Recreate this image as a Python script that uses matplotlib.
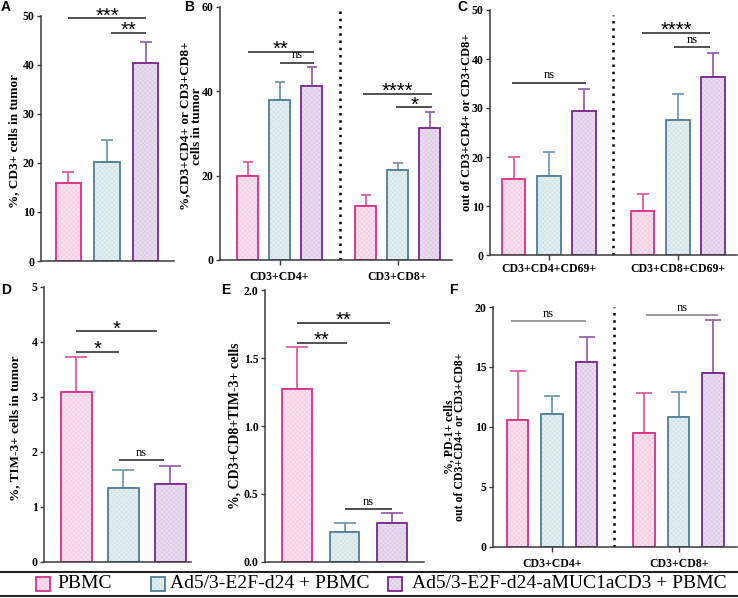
import matplotlib
matplotlib.use('Agg')
import matplotlib.pyplot as plt
from matplotlib.patches import Rectangle
from matplotlib.lines import Line2D
from matplotlib.colors import to_rgba

W, H = 738, 598
plt.rcParams['font.family'] = ['Liberation Serif', 'DejaVu Serif']
plt.rcParams['hatch.linewidth'] = 0.35

# ---------------- data ----------------
groups = ['PBMC', 'Ad5/3-E2F-d24 + PBMC', 'Ad5/3-E2F-d24-aMUC1aCD3 + PBMC']

A_mean = [16.0, 20.1, 40.4]
A_err = [2.2, 4.6, 4.2]

B_cats = ['CD3+CD4+', 'CD3+CD8+']
B_cd4_mean = [20.0, 37.9, 41.2]
B_cd4_err = [3.2, 4.4, 4.6]
B_cd8_mean = [12.8, 21.3, 31.2]
B_cd8_err = [2.7, 1.6, 3.8]

C_cats = ['CD3+CD4+CD69+', 'CD3+CD8+CD69+']
C_cd4_mean = [15.5, 16.2, 29.4]
C_cd4_err = [4.4, 4.9, 4.4]
C_cd8_mean = [9.0, 27.6, 36.4]
C_cd8_err = [3.4, 5.3, 4.9]

D_mean = [3.09, 1.34, 1.42]
D_err = [0.63, 0.33, 0.33]

E_mean = [1.27, 0.22, 0.285]
E_err = [0.31, 0.07, 0.075]

F_cats = ['CD3+CD4+', 'CD3+CD8+']
F_cd4_mean = [10.6, 11.1, 15.45]
F_cd4_err = [4.1, 1.5, 2.05]
F_cd8_mean = [9.5, 10.8, 14.5]
F_cd8_err = [3.3, 2.1, 4.4]

# significance brackets: (x_from, x_to, y, label)
A_sig = [(0.0, 2.0, 49.5, '***'), (1.1, 2.0, 46.5, '**')]
B_sig = [(0.0, 2.08, 49.3, '**'), (1.0, 2.08, 46.8, 'ns'),
         (3.6, 5.77, 39.4, '****'), (4.64, 5.77, 36.2, '*')]
C_sig = [(-0.04, 2.06, 35.2, 'ns'), (3.65, 5.57, 45.4, '****'), (4.55, 5.57, 42.4, 'ns')]
D_sig = [(0.0, 1.72, 4.19, '*'), (0.0, 0.9, 3.82, '*'), (0.9, 1.86, 1.85, 'ns')]
E_sig = [(0.0, 1.96, 1.76, '**'), (0.0, 1.05, 1.61, '**'), (1.0, 2.0, 0.39, 'ns')]
F_sig = [(-0.2, 1.99, 18.8, 'ns'), (3.72, 5.8, 19.3, 'ns')]

# ---------------- style ----------------
edge_colors = ['#d62f86', '#4e7e96', '#77288a']
fill_colors = ['#f8e0ee', '#e3eef1', '#e9dcf0']
hatch_colors = ['#efc6de', '#cbdfe6', '#d9c6e4']
err_colors = ['#d8539b', '#6893a7', '#9058a3']
AX_COL = '#3a3a3a'
HATCH = 'xxxxxxx'

fig = plt.figure(figsize=(W / 100, H / 100), dpi=100)


def add_ax(l, r, t, b):
    return fig.add_axes([l / W, 1 - b / H, (r - l) / W, (b - t) / H])


def set_hatch(patch, c):
    try:
        patch.set_hatchcolor(c)
    except AttributeError:
        patch._hatch_color = to_rgba(c)


def style(ax, ylim, yticks, fmt='{:g}', xpad=4):
    ax.set_ylim(*ylim)
    ax.set_yticks(yticks)
    ax.set_yticklabels([fmt.format(v) for v in yticks])
    for s in ['top', 'right']:
        ax.spines[s].set_visible(False)
    for s in ['left', 'bottom']:
        ax.spines[s].set_color(AX_COL)
        ax.spines[s].set_linewidth(1.1)
    ax.tick_params(axis='y', colors=AX_COL, length=3, width=1.0, pad=1.5,
                   labelsize=8.5, labelcolor='black')
    ax.tick_params(axis='x', colors=AX_COL, length=3.5, width=1.0, pad=xpad,
                   labelsize=8.5, labelcolor='black')
    for lab in ax.get_yticklabels() + ax.get_xticklabels():
        lab.set_fontweight('bold')


def bars(ax, xs, means, errs, width, capsize):
    for i, (x, m, e) in enumerate(zip(xs, means, errs)):
        rects = ax.bar([x], [m], width, color=fill_colors[i], edgecolor=edge_colors[i],
                       linewidth=1.3, hatch=HATCH, zorder=2)
        for r in rects:
            set_hatch(r, hatch_colors[i])
        ax.errorbar([x], [m], yerr=[[0], [e]], fmt='none', ecolor=err_colors[i],
                    elinewidth=1.2, capsize=capsize, capthick=1.2, zorder=1.5)


def sig(ax, items, color='#333333'):
    for x1, x2, y, txt in items:
        ax.plot([x1, x2], [y, y], color=color, lw=1.2, solid_capstyle='butt',
                clip_on=False, zorder=3)
        if txt == 'ns':
            ax.annotate(txt, ((x1 + x2) / 2, y), xytext=(0, 3), textcoords='offset points',
                        ha='center', va='baseline', fontsize=9, annotation_clip=False)
        else:
            ax.annotate(txt, ((x1 + x2) / 2, y), xytext=(0, -2.3), textcoords='offset points',
                        ha='center', va='baseline', fontsize=14.5,
                        family=['Liberation Sans', 'DejaVu Sans'], annotation_clip=False)


def ylab(ax, text, x, y, fs, ls=0.95):
    ax.set_ylabel(text, fontsize=fs, fontweight='bold', linespacing=ls)
    ax.yaxis.label.set_verticalalignment('center')
    ax.yaxis.set_label_coords(x, y)


def divider(ax, x, top):
    ax.plot([x, x], [0, top], color='black', lw=1.8, linestyle=(0, (1, 1.9)), zorder=1)


# ---------------- Panel A ----------------
axA = add_ax(41, 174, 15.7, 261)
bars(axA, [0, 1, 2], A_mean, A_err, 0.65, 4.6)
axA.set_xlim(-0.714, 2.74)
axA.set_xticks([])
style(axA, (0, 50), [0, 10, 20, 30, 40, 50])
sig(axA, A_sig)
ylab(axA, '%, CD3+ cells in tumor', -0.203, 0.49, 9.5)

# ---------------- Panel B ----------------
axB = add_ax(220, 452, 7, 260)
offB = 3.69
bars(axB, [0, 1, 2], B_cd4_mean, B_cd4_err, 0.66, 3.6)
bars(axB, [offB, offB + 1, offB + 2], B_cd8_mean, B_cd8_err, 0.66, 3.6)
axB.set_xlim(-0.86, 6.39)
axB.set_xticks([1, offB + 1])
axB.set_xticklabels(B_cats)
style(axB, (0, 60), [0, 20, 40, 60], xpad=4.5)
divider(axB, 2.89, 60)
sig(axB, B_sig)
ylab(axB, '%,CD3+CD4+ or CD3+CD8+\ncells in tumor', -0.125, 0.53, 9.5)

# ---------------- Panel C ----------------
axC = add_ax(490, 737, 10, 255)
offC = 3.66
bars(axC, [0, 1, 2], C_cd4_mean, C_cd4_err, 0.67, 4.0)
bars(axC, [offC, offC + 1, offC + 2], C_cd8_mean, C_cd8_err, 0.67, 4.0)
axC.set_xlim(-0.667, 6.34)
axC.set_xticks([1, offC + 1])
axC.set_xticklabels(C_cats)
style(axC, (0, 50), [0, 10, 20, 30, 40, 50], xpad=2)
divider(axC, 2.82, 49)
sig(axC, C_sig)
ylab(axC, 'out of CD3+CD4+ or CD3+CD8+', -0.095, 0.54, 9)

# ---------------- Panel D ----------------
axD = add_ax(44, 191, 286.7, 562)
bars(axD, [0, 1, 2], D_mean, D_err, 0.66, 8)
axD.set_xlim(-0.69, 2.44)
axD.set_xticks([])
style(axD, (0, 5), [0, 1, 2, 3, 4, 5])
sig(axD, D_sig)
ylab(axD, '%, TIM-3+ cells in tumor', -0.197, 0.485, 9.5)

# ---------------- Panel E ----------------
axE = add_ax(265, 424, 290, 562)
bars(axE, [0, 1, 2], E_mean, E_err, 0.63, 8)
axE.set_xlim(-0.67, 2.67)
axE.set_xticks([])
style(axE, (0, 2.0), [0, 0.5, 1.0, 1.5, 2.0], fmt='{:.1f}')
sig(axE, E_sig)
ylab(axE, '%, CD3+CD8+TIM-3+ cells', -0.19, 0.50, 10)

# ---------------- Panel F ----------------
axF = add_ax(493, 737, 307, 546.7)
offF = 3.67
bars(axF, [0, 1, 2], F_cd4_mean, F_cd4_err, 0.62, 5.5)
bars(axF, [offF, offF + 1, offF + 2], F_cd8_mean, F_cd8_err, 0.62, 5.5)
axF.set_xlim(-0.71, 6.36)
axF.set_xticks([1, offF + 1])
axF.set_xticklabels(F_cats)
style(axF, (0, 20), [0, 5, 10, 15, 20], xpad=4.5)
divider(axF, 2.8, 20)
sig(axF, F_sig, color='#8a8a8a')
ylab(axF, '%, PD-1+ cells\nout of CD3+CD4+ or CD3+CD8+', -0.158, 0.46, 8.5)

# ---------------- panel letters ----------------
letters = [('A', 6, 7), ('B', 189, 7), ('C', 462, 7), ('D', 6, 289.5), ('E', 226, 289.5), ('F', 453, 290.5)]
for s, px, py in letters:
    fig.text(px / W, 1 - py / H, s, ha='center', va='center', fontsize=10,
             fontweight='bold', family=['Liberation Sans', 'DejaVu Sans'])

# ---------------- legend ----------------
for yy in (571.7, 595.7):
    fig.add_artist(Line2D([0, 1], [1 - yy / H, 1 - yy / H], color='#222222', lw=1.5,
                          transform=fig.transFigure))
leg_box_x = [36, 151, 388]
leg_text_x = [57, 170, 412]
for i, g in enumerate(groups):
    r = Rectangle((leg_box_x[i] / W, 1 - 591 / H), 14 / W, 14 / H, transform=fig.transFigure,
                  facecolor=fill_colors[i], edgecolor=edge_colors[i], linewidth=1.3, hatch=HATCH)
    set_hatch(r, hatch_colors[i])
    fig.add_artist(r)
    fig.text(leg_text_x[i] / W, 1 - 584 / H, g, ha='left', va='center', fontsize=14)

fig.savefig('out.png', dpi=100)
